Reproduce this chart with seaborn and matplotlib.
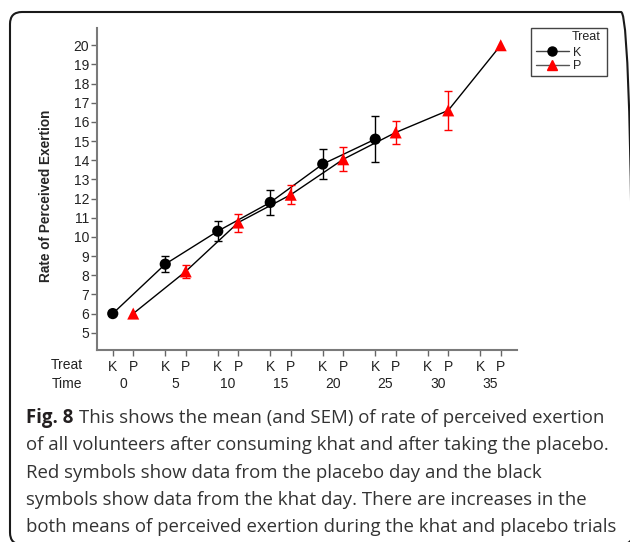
import numpy as np
import pandas as pd
import matplotlib
matplotlib.use("Agg")
import matplotlib.pyplot as plt
import seaborn as sns
from matplotlib.lines import Line2D
from matplotlib.patches import FancyBboxPatch, Rectangle
import matplotlib.transforms as mtransforms

# ---- data ----
times = [0, 5, 10, 15, 20, 25, 30, 35]
k_mean = [6.0, 8.58, 10.3, 11.8, 13.8, 15.1, np.nan, np.nan]
k_sem = [0.0, 0.4, 0.53, 0.65, 0.78, 1.19, np.nan, np.nan]
p_mean = [6.0, 8.2, 10.75, 12.2, 14.05, 15.45, 16.6, 20.0]
p_sem = [0.0, 0.36, 0.47, 0.5, 0.62, 0.58, 1.0, 0.0]
treat_labels = ["K", "P"]
y_ticks = list(range(5, 21))
caption_bold = "Fig. 8"
caption_lines = [
    "This shows the mean (and SEM) of rate of perceived exertion",
    "of all volunteers after consuming khat and after taking the placebo.",
    "Red symbols show data from the placebo day and the black",
    "symbols show data from the khat day. There are increases in the",
    "both means of perceived exertion during the khat and placebo trials",
]

sns.set_style("white")
plt.rcParams["font.family"] = ["Liberation Sans", "DejaVu Sans"]

W, H = 630, 542
fig = plt.figure(figsize=(W / 100, H / 100), dpi=100)

def fx(px):
    return px / W

def fy(py):
    return 1 - py / H

# frame (bottom edge just below the image bottom, right edge just beyond)
frame = FancyBboxPatch((0.10, -0.025), 6.23, 5.325,
                       boxstyle="round,pad=0,rounding_size=0.12",
                       transform=fig.dpi_scale_trans, fill=False,
                       edgecolor="#1a1a1a", linewidth=1.5, clip_on=False)
fig.patches.append(frame)

ax_l, ax_r, ax_t, ax_b = 97, 517, 28, 350
ax = fig.add_axes([fx(ax_l), fy(ax_b), (ax_r - ax_l) / W, (ax_b - ax_t) / H])

off = 0.39
rows = []
for i, t in enumerate(times):
    rows.append(dict(Time=t, Treat="K", x=i, y=k_mean[i], err=k_sem[i]))
    rows.append(dict(Time=t, Treat="P", x=i + off, y=p_mean[i], err=p_sem[i]))
df = pd.DataFrame(rows).dropna()
dk = df[(df["Treat"] == "K") & (df["err"] > 0)]
dp = df[(df["Treat"] == "P") & (df["err"] > 0)]

# lines (black for both)
sns.lineplot(data=df, x="x", y="y", units="Treat", estimator=None,
             color="black", linewidth=1.0, ax=ax, legend=False, zorder=2)
# error bars
ax.errorbar(dk["x"], dk["y"], yerr=dk["err"],
            fmt="none", ecolor="black", elinewidth=1.0, capsize=3, capthick=1.0, zorder=3)
ax.errorbar(dp["x"], dp["y"], yerr=dp["err"],
            fmt="none", ecolor="#ff0000", elinewidth=1.0, capsize=3, capthick=1.0, zorder=3)
# markers
sns.scatterplot(data=df, x="x", y="y", hue="Treat", style="Treat",
                markers={"K": "o", "P": "^"}, palette={"K": "black", "P": "#ff0000"},
                size="Treat", sizes={"K": 65, "P": 75},
                edgecolor="none", linewidth=0, ax=ax, legend=False, zorder=4)

ax.set_xlim(-0.30, len(times) - 1 + off + 0.31)
ax.set_ylim(4.1, 20.9)
ax.set_yticks(y_ticks)
ax.set_yticklabels([str(v) for v in y_ticks], fontsize=10, color="#222222")
xt = []
xl = []
for i in range(len(times)):
    xt += [i, i + off]
    xl += treat_labels
ax.set_xticks(xt)
ax.set_xticklabels(xl, fontsize=10, color="#222222")
ax.set_xlabel("")
ax.set_ylabel("Rate of Perceived Exertion", fontsize=9.8, fontweight="bold")
ax.yaxis.set_label_coords((53 - ax_l) / (ax_r - ax_l), (ax_b - 195.5) / (ax_b - ax_t))
ax.tick_params(axis="both", direction="out", length=4, width=1, color="#666666",
               left=True, bottom=True)
ax.tick_params(axis="y", pad=1.5)
ax.tick_params(axis="x", pad=3.5)
for s in ["top", "right"]:
    ax.spines[s].set_visible(False)
for s in ["left", "bottom"]:
    ax.spines[s].set_color("#7a7a7a")
    ax.spines[s].set_linewidth(1.5)

# time row
trans = mtransforms.blended_transform_factory(ax.transData, fig.transFigure)
for i, t in enumerate(times):
    ax.text(i + off / 2, fy(384), str(t), transform=trans, ha="center", va="center",
            fontsize=10, color="#222222")
fig.text(fx(67), fy(365), "Treat", ha="center", va="center", fontsize=10, color="#222222")
fig.text(fx(67.5), fy(384), "Time", ha="center", va="center", fontsize=10, color="#222222")

# legend
handles = [
    Line2D([], [], color="#444444", lw=1, marker="o", markersize=6.5,
           markerfacecolor="black", markeredgecolor="black"),
    Line2D([], [], color="#555555", lw=1, marker="^", markersize=7,
           markerfacecolor="#ff0000", markeredgecolor="#ff0000"),
]
leg = fig.legend(handles, treat_labels, loc="upper left",
                 bbox_to_anchor=(fx(536), fy(46.5)), fontsize=9,
                 frameon=False, handlelength=2.6, handletextpad=0.4,
                 borderpad=0, labelspacing=0.15, borderaxespad=0)
box = Rectangle((fx(531), fy(76)), (607 - 531) / W, (76 - 28) / H,
                transform=fig.transFigure, fill=False, edgecolor="#444444",
                linewidth=1.0)
fig.patches.append(box)
fig.text(fx(601), fy(37.5), "Treat", ha="right", va="center", fontsize=9, color="#222222")

# caption
cap_font = ["Open Sans", "DejaVu Sans"]
cap_size = 13.4
base0 = 423.3
dy = 27.1
t0 = fig.text(fx(26), fy(base0), caption_bold, fontsize=cap_size, fontweight="bold",
              family=cap_font, va="baseline", ha="left", color="#231f20")
fig.canvas.draw()
bb = t0.get_window_extent()
x_after = bb.x1 + 5.5
fig.text(x_after / W, fy(base0), caption_lines[0], fontsize=cap_size, family=cap_font,
         va="baseline", ha="left", color="#333333")
for k, line in enumerate(caption_lines[1:], start=1):
    fig.text(fx(26), fy(base0 + k * dy), line, fontsize=cap_size, family=cap_font,
             va="baseline", ha="left", color="#333333")

fig.savefig("out.png", dpi=100)
